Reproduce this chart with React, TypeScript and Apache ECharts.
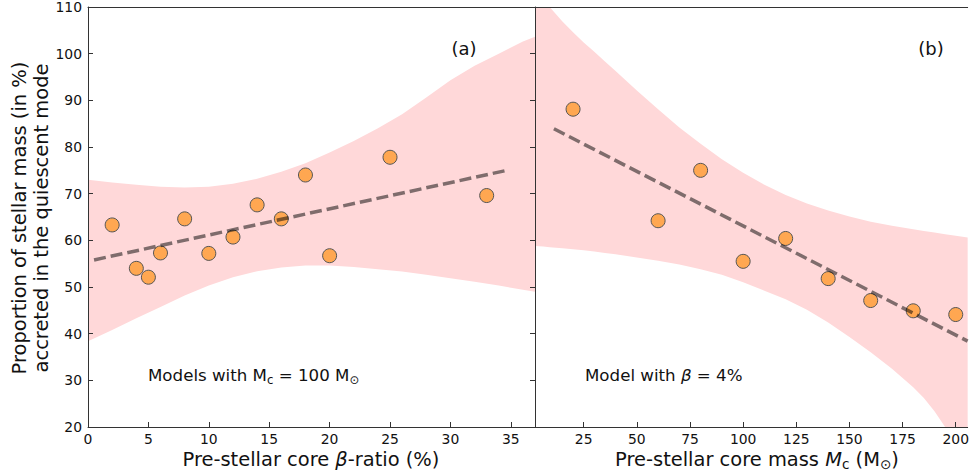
import React, { useEffect, useRef } from 'react';
import * as echarts from 'echarts';

// ---- data ----
const betaX = [2, 4, 5, 6, 8, 10, 12, 14, 16, 18, 20, 25, 33];
const betaY = [63.3, 54.0, 52.1, 57.3, 64.6, 57.2, 60.7, 67.6, 64.6, 74.0, 56.7, 77.8, 69.6];
const massX = [20, 60, 80, 100, 120, 140, 160, 180, 200];
const massY = [88.1, 64.2, 75.0, 55.5, 60.4, 51.8, 47.1, 44.9, 44.1];

const fitAX = [0.5, 34.5];
const fitAY = [55.8, 74.9];
const fitBX = [11, 205.6];
const fitBY = [83.9, 38.4];

const bandAX = [0, 2, 4, 6, 8, 10, 12, 14, 16, 18, 20, 22, 24, 26, 28, 30, 32, 34, 36, 37];
const bandAHi = [73.0, 72.4, 71.9, 71.5, 71.3, 71.5, 72.1, 73.2, 74.7, 76.5, 78.8, 81.3, 84.0, 87.0, 90.6, 94.3, 97.4, 100.0, 102.6, 103.6];
const bandALo = [38.4, 40.8, 43.3, 45.7, 48.2, 50.3, 52.1, 53.4, 54.2, 54.6, 54.6, 54.3, 53.8, 53.3, 52.6, 51.9, 51.1, 50.3, 49.4, 49.0];

const bandBX = [2.1, 6, 9, 15, 20, 25, 30, 35, 40, 50, 60, 70, 80, 90, 100, 110, 120, 130, 140, 150, 160, 170, 180, 185, 190, 195, 200, 205.6];
const bandBHi = [115, 112.4, 110.0, 106.9, 104.6, 102.4, 100.4, 98.3, 96.3, 92.1, 88.1, 84.2, 80.7, 77.4, 74.5, 71.9, 69.7, 67.9, 66.4, 65.1, 64.0, 63.1, 62.4, 62.0, 61.7, 61.3, 61.0, 60.6];
const bandBLo = [58.8, 58.7, 58.5, 58.3, 58.1, 57.9, 57.6, 57.3, 57.0, 56.3, 55.6, 54.8, 53.8, 52.6, 51.0, 49.2, 47.4, 45.1, 42.4, 39.3, 36.0, 32.5, 28.5, 26.2, 23.4, 20.0, 17.0, 14.0];

const betaTicks = [0, 5, 10, 15, 20, 25, 30, 35];
const massTicks = [25, 50, 75, 100, 125, 150, 175, 200];
const yMin = 20;
const yMax = 110;
const yStep = 10;

// ---- styles ----
const FONT = 'DejaVu Sans';
const PINK = '#FFD8D9';
const AXIS = '#333333';
const TEXT = '#111111';

const clampY = (v: number) => Math.min(Math.max(v, yMin), yMax);

function bandRender(xs: number[], lo: number[], hi: number[]) {
  return (params: any, api: any) => {
    if (params.dataIndex !== 0) return null;
    const top = xs.map((x, i) => api.coord([x, clampY(hi[i])]));
    const bot = xs.map((x, i) => api.coord([x, clampY(lo[i])])).reverse();
    return {
      type: 'polygon',
      shape: { points: top.concat(bot) },
      style: { fill: PINK },
      silent: true,
    };
  };
}

const baseX = (grid: number, min: number, max: number, ticks: number[]) => ({
  type: 'value',
  gridIndex: grid,
  min,
  max,
  position: 'bottom',
  z: 10,
  axisLine: { show: true, onZero: false, lineStyle: { color: AXIS, width: 1 } },
  axisTick: { show: true, inside: true, length: 5, customValues: ticks, lineStyle: { color: AXIS } },
  axisLabel: { show: true, customValues: ticks, fontSize: 13.9, fontFamily: FONT, color: TEXT, margin: 5 },
  splitLine: { show: false },
});

const topX = (grid: number, min: number, max: number) => ({
  type: 'value',
  gridIndex: grid,
  min,
  max,
  position: 'top',
  z: 10,
  axisLine: { show: true, onZero: false, lineStyle: { color: AXIS, width: 1 } },
  axisTick: { show: false },
  axisLabel: { show: false },
  splitLine: { show: false },
});

const yAx = (grid: number, position: string, labels: boolean, ticks: boolean, line: boolean) => ({
  type: 'value',
  gridIndex: grid,
  min: yMin,
  max: yMax,
  interval: yStep,
  position,
  z: 10,
  axisLine: { show: line, onZero: false, lineStyle: { color: AXIS, width: 1 } },
  axisTick: { show: ticks, inside: true, length: 5, lineStyle: { color: AXIS } },
  axisLabel: { show: labels, fontSize: 13.9, fontFamily: FONT, color: TEXT, margin: 6 },
  splitLine: { show: false },
});

const titleRich = {
  n: { fontSize: 19.44, fontFamily: FONT, fill: TEXT, lineHeight: 24 },
  i: { fontSize: 19.44, fontFamily: FONT, fontStyle: 'italic', fill: TEXT, lineHeight: 24 },
  s: { fontSize: 13.6, fontFamily: FONT, fill: TEXT, lineHeight: 12, verticalAlign: 'bottom' },
};
const noteRich = {
  n: { fontSize: 16.67, fontFamily: FONT, fill: TEXT, lineHeight: 21 },
  i: { fontSize: 16.67, fontFamily: FONT, fontStyle: 'italic', fill: TEXT, lineHeight: 21 },
  s: { fontSize: 11.7, fontFamily: FONT, fill: TEXT, lineHeight: 10, verticalAlign: 'bottom' },
};

export default function App() {
  const ref = useRef<HTMLDivElement>(null);
  useEffect(() => {
    if (!ref.current) return;
    const chart = echarts.init(ref.current, undefined, { renderer: 'svg' });
    const option: any = {
      animation: false,
      backgroundColor: '#ffffff',
      grid: [
        { left: 88, top: 7, width: 447, height: 420, containLabel: false },
        { left: 535, top: 7, width: 437, height: 420, containLabel: false },
      ],
      xAxis: [
        baseX(0, 0, 37, betaTicks),
        baseX(1, 2.1, 205.6, massTicks),
        topX(0, 0, 37),
        topX(1, 2.1, 205.6),
      ],
      yAxis: [
        yAx(0, 'left', true, true, true),
        yAx(0, 'right', false, true, true),
        yAx(1, 'left', false, false, false),
      ],
      series: [
        {
          type: 'custom',
          xAxisIndex: 0,
          yAxisIndex: 0,
          clip: true,
          z: 1,
          silent: true,
          renderItem: bandRender(bandAX, bandALo, bandAHi),
          data: bandAX.map((x, i) => [x, bandALo[i], bandAHi[i]]),
          encode: { x: 0, y: [1, 2] },
        },
        {
          type: 'custom',
          xAxisIndex: 1,
          yAxisIndex: 2,
          clip: true,
          z: 1,
          silent: true,
          renderItem: bandRender(bandBX, bandBLo, bandBHi),
          data: bandBX.map((x, i) => [x, bandBLo[i], bandBHi[i]]),
          encode: { x: 0, y: [1, 2] },
        },
        {
          type: 'scatter',
          xAxisIndex: 0,
          yAxisIndex: 0,
          z: 3,
          symbolSize: 14,
          itemStyle: { color: '#FFA751', borderColor: '#555555', borderWidth: 1, opacity: 1 },
          data: betaX.map((x, i) => [x, betaY[i]]),
        },
        {
          type: 'scatter',
          xAxisIndex: 1,
          yAxisIndex: 2,
          z: 3,
          symbolSize: 14,
          itemStyle: { color: '#FFA751', borderColor: '#555555', borderWidth: 1, opacity: 1 },
          data: massX.map((x, i) => [x, massY[i]]),
        },
        {
          type: 'line',
          xAxisIndex: 0,
          yAxisIndex: 0,
          z: 4,
          symbol: 'none',
          clip: true,
          lineStyle: { color: 'rgba(0,0,0,0.5)', width: 3.5, type: [12, 5] },
          data: fitAX.map((x, i) => [x, fitAY[i]]),
        },
        {
          type: 'line',
          xAxisIndex: 1,
          yAxisIndex: 2,
          z: 4,
          symbol: 'none',
          clip: true,
          lineStyle: { color: 'rgba(0,0,0,0.5)', width: 3.5, type: [12, 5] },
          data: fitBX.map((x, i) => [x, fitBY[i]]),
        },
      ],
      graphic: [
        {
          type: 'text',
          x: 19,
          y: 218,
          rotation: Math.PI / 2,
          style: { text: 'Proportion of stellar mass (in %)', fontSize: 19.44, fontFamily: FONT, fill: TEXT, align: 'center', verticalAlign: 'middle' },
        },
        {
          type: 'text',
          x: 41,
          y: 218,
          rotation: Math.PI / 2,
          style: { text: 'accreted in the quiescent mode', fontSize: 19.44, fontFamily: FONT, fill: TEXT, align: 'center', verticalAlign: 'middle' },
        },
        {
          type: 'text',
          x: 311,
          y: 459,
          style: { text: '{n|Pre-stellar core }{i|β}{n|-ratio (%)}', rich: titleRich, align: 'center', verticalAlign: 'middle' },
        },
        {
          type: 'text',
          x: 757,
          y: 459,
          style: { text: '{n|Pre-stellar core mass }{i|M}{s|c}{n| (M}{s|⊙}{n|)}', rich: titleRich, align: 'center', verticalAlign: 'middle' },
        },
        {
          type: 'text',
          x: 148,
          y: 375,
          style: { text: '{n|Models with M}{s|c}{n| = 100 M}{s|⊙}', rich: noteRich, align: 'left', verticalAlign: 'middle' },
        },
        {
          type: 'text',
          x: 585,
          y: 375,
          style: { text: '{n|Model with }{i|β}{n| = 4%}', rich: noteRich, align: 'left', verticalAlign: 'middle' },
        },
        {
          type: 'text',
          x: 464,
          y: 48,
          style: { text: '(a)', fontSize: 18, fontFamily: FONT, fill: TEXT, align: 'center', verticalAlign: 'middle' },
        },
        {
          type: 'text',
          x: 931,
          y: 48,
          style: { text: '(b)', fontSize: 18, fontFamily: FONT, fill: TEXT, align: 'center', verticalAlign: 'middle' },
        },
      ],
    };
    chart.setOption(option);
    return () => chart.dispose();
  }, []);
  return (
    <div
      ref={ref}
      style={{ position: 'fixed', left: 0, top: 0, width: 972, height: 475, background: '#fff' }}
    />
  );
}
